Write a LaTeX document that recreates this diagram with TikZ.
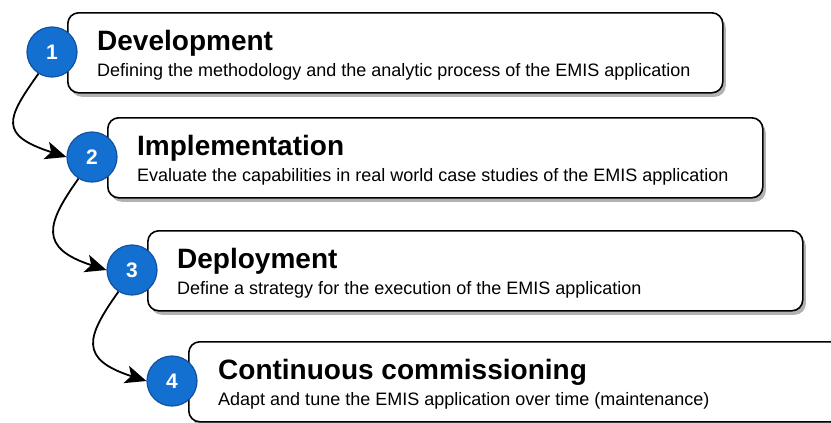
\documentclass[tikz,border=0pt]{standalone}
\usepackage{fontspec}
\setmainfont{Liberation Sans}
\usetikzlibrary{arrows.meta,shadows}

\definecolor{stepblue}{RGB}{20,112,208}
\definecolor{stepedge}{RGB}{16,82,162}

\tikzset{
  phase/.style={draw=black, line width=1.6pt, rounded corners=11pt, fill=white,
    minimum width=655pt, minimum height=80pt, anchor=north west,
    drop shadow={shadow xshift=3pt, shadow yshift=-4pt, fill=black!30, opacity=1}},
  badge/.style={circle, fill=stepblue, draw=stepedge, line width=1.2pt,
    minimum size=50pt, inner sep=0pt, text=white,
    font=\fontsize{21}{21}\selectfont\bfseries},
  heading/.style={anchor=base west, inner sep=0pt, font=\fontsize{28}{28}\selectfont\bfseries},
  detail/.style={anchor=base west, inner sep=0pt, font=\fontsize{18}{18}\selectfont},
  flow/.style={-{Stealth[length=21pt,width=18pt,inset=5pt]}, line width=1.8pt}
}

\begin{document}
\begin{tikzpicture}[x=1pt,y=1pt]
\useasboundingbox (0,0) rectangle (831,-423);
\clip (0,0) rectangle (831,-423);

% boxes
\node[phase] (box1) at (67,-12) {};
\node[phase] (box2) at (107,-117) {};
\node[phase] (box3) at (147,-230) {};
\node[phase] (box4) at (188,-341) {};

% texts
\node[heading] (t1) at (97,-50) {Development};
\node[detail] (d1) at (97,-76) {Defining the methodology and the analytic process of the EMIS application};
\node[heading] (t2) at (137,-155) {Implementation};
\node[detail] (d2) at (137,-181) {Evaluate the capabilities in real world case studies of the EMIS application};
\node[heading] (t3) at (177,-268) {Deployment};
\node[detail] (d3) at (177,-294) {Define a strategy for the execution of the EMIS application};
\node[heading] (t4) at (218,-379) {Continuous commissioning};
\node[detail] (d4) at (218,-405) {Adapt and tune the EMIS application over time (maintenance)};

% badges
\node[badge] (c1) at (52,-52) {1};
\node[badge] (c2) at (92,-157) {2};
\node[badge] (c3) at (132,-270) {3};
\node[badge] (c4) at (172,-381) {4};

\draw[flow] (c1.238) .. controls +(-32,-45) and +(-68,22) .. (c2.west);
\draw[flow] (c2.238) .. controls +(-32,-45) and +(-68,22) .. (c3.west);
\draw[flow] (c3.238) .. controls +(-32,-45) and +(-68,22) .. (c4.west);
\end{tikzpicture}
\end{document}
